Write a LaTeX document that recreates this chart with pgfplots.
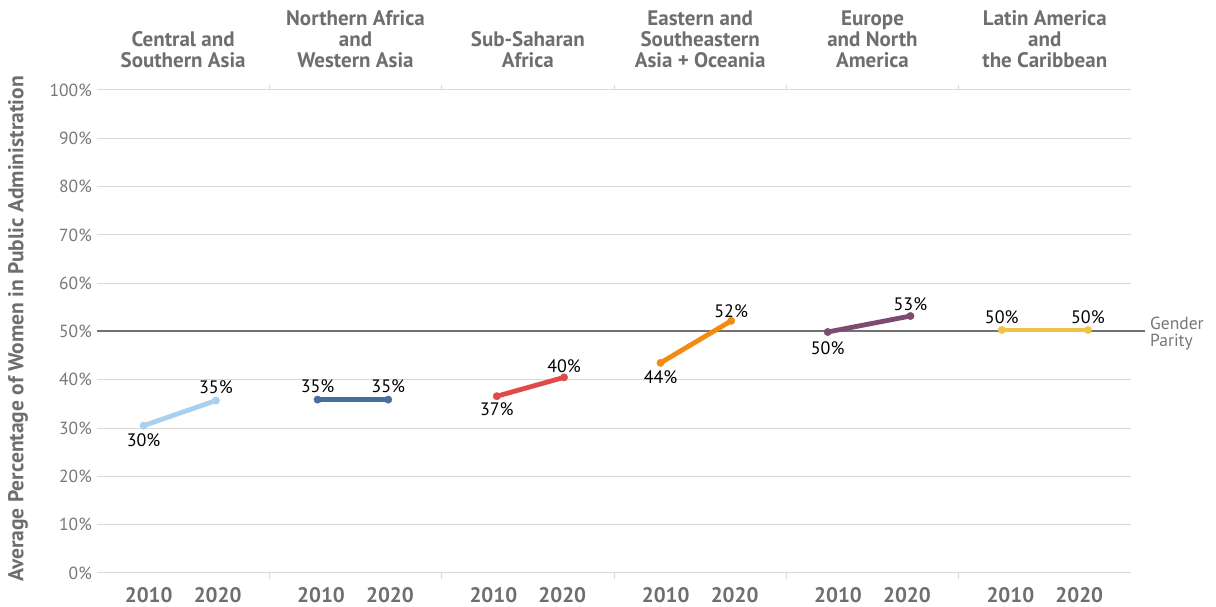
\documentclass[border=0pt]{standalone}
\usepackage{pgfplots}
\usepackage{pgfplotstable}
\pgfplotsset{compat=1.18}
\usepackage{fontspec}
\setmainfont{PT Sans}

\definecolor{headgray}{HTML}{6E6E6E}
\definecolor{tickgray}{HTML}{777777}
\definecolor{gridgray}{HTML}{D9D9D9}
\definecolor{paritygray}{HTML}{727272}
\definecolor{cA}{HTML}{A9D0EE}
\definecolor{cB}{HTML}{4A6DA1}
\definecolor{cC}{HTML}{E04A4A}
\definecolor{cD}{HTML}{F28B0F}
\definecolor{cE}{HTML}{7D4B72}
\definecolor{cF}{HTML}{EFC443}

% x: panel position, y: value, lab: printed label, dy: label offset (pt)
\pgfplotstableread{
x y lab dy
0.27 30.5 30 -15
0.69 35.7 35 13
}\tabA
\pgfplotstableread{
x y lab dy
1.28 35.9 35 13
1.69 35.9 35 13
}\tabB
\pgfplotstableread{
x y lab dy
2.32 36.6 37 -13
2.71 40.5 40 11
}\tabC
\pgfplotstableread{
x y lab dy
3.27 43.5 44 -14
3.68 52.2 52 10
}\tabD
\pgfplotstableread{
x y lab dy
4.24 49.9 50 -16
4.72 53.2 53 12
}\tabE
\pgfplotstableread{
x y lab dy
5.25 50.3 50 13
5.75 50.3 50 13
}\tabF

\pgfplotsset{
  series/.style={
    color=#1, line width=4.8pt, line cap=round,
    mark=*, mark size=3.7pt, mark options={solid, line width=0.4pt, draw=#1, fill=#1},
    point meta=explicit,
    visualization depends on={\thisrow{dy} \as \dy},
    nodes near coords={\pgfmathprintnumber{\pgfplotspointmeta}\%},
    nodes near coords style={anchor=center, yshift=\dy pt, text=black,
      font=\fontsize{18}{20}\selectfont, inner sep=0pt},
  },
}
\tikzset{
  header/.style={anchor=south, align=center, inner sep=0pt, text=headgray,
    font=\bfseries\fontsize{21}{21}\selectfont},
}

\begin{document}
\begin{tikzpicture}
\path[use as bounding box] (0pt,0pt) rectangle (1216pt,607pt);
\begin{axis}[
  at={(97pt,34pt)}, anchor=south west,
  scale only axis, width=1034pt, height=483pt,
  xmin=0, xmax=6, ymin=0, ymax=100,
  axis lines=left, axis line style={draw=none, -},
  clip=false,
  /pgf/number format/assume math mode=true,
  ytick={0,10,...,100},
  yticklabel={\pgfmathprintnumber{\tick}\%},
  yticklabel style={font=\fontsize{17.5}{19}\selectfont, text=tickgray, inner sep=0pt, xshift=-5pt},
  ymajorgrids, grid style={draw=gridgray, line width=1pt},
  major tick length=0pt, tick style={draw=none},
  xtick={0.3,0.7,1.3,1.7,2.3,2.7,3.3,3.7,4.3,4.7,5.3,5.7},
  xticklabels={2010,2020,2010,2020,2010,2020,2010,2020,2010,2020,2010,2020},
  xticklabel style={font=\bfseries\fontsize{21}{21}\selectfont, text=headgray,
    anchor=base, yshift=-30pt},
]
% gender parity line
\draw[paritygray, line width=2pt] (axis cs:0,50) -- ([xshift=14pt]axis cs:6,50);
\node[anchor=west, align=left, inner sep=0pt, text=tickgray,
  font=\fontsize{17.5}{16.5}\selectfont] at ([xshift=19pt,yshift=-2pt]axis cs:6,50) {Gender\\Parity};
% panel separators
\pgfplotsinvokeforeach{1,...,5}{
  \draw[gridgray, line width=1pt] (axis cs:#1,100) -- ++(0pt,5pt);
  \draw[gridgray, line width=1pt] (axis cs:#1,0) -- ++(0pt,-6pt);
}
% headers
\node[header] at ([yshift=22pt]axis cs:0.5,100) {Central and\\Southern Asia};
\node[header] at ([yshift=22pt]axis cs:1.5,100) {Northern Africa\\and\\Western Asia};
\node[header] at ([yshift=22pt]axis cs:2.5,100) {Sub-Saharan\\Africa};
\node[header] at ([yshift=22pt]axis cs:3.5,100) {Eastern and\\Southeastern\\Asia + Oceania};
\node[header] at ([yshift=22pt]axis cs:4.5,100) {Europe\\and North\\America};
\node[header] at ([yshift=22pt]axis cs:5.5,100) {Latin America\\and\\the Caribbean};

\addplot[series=cA] table[x=x, y=y, meta=lab] {\tabA};
\addplot[series=cB] table[x=x, y=y, meta=lab] {\tabB};
\addplot[series=cC] table[x=x, y=y, meta=lab] {\tabC};
\addplot[series=cD] table[x=x, y=y, meta=lab] {\tabD};
\addplot[series=cE] table[x=x, y=y, meta=lab] {\tabE};
\addplot[series=cF] table[x=x, y=y, meta=lab] {\tabF};
\end{axis}
\node[rotate=90, text=headgray, font=\bfseries\fontsize{21.5}{23}\selectfont]
  at (18pt,278pt) {Average Percentage of Women in Public Administration};
\end{tikzpicture}
\end{document}
